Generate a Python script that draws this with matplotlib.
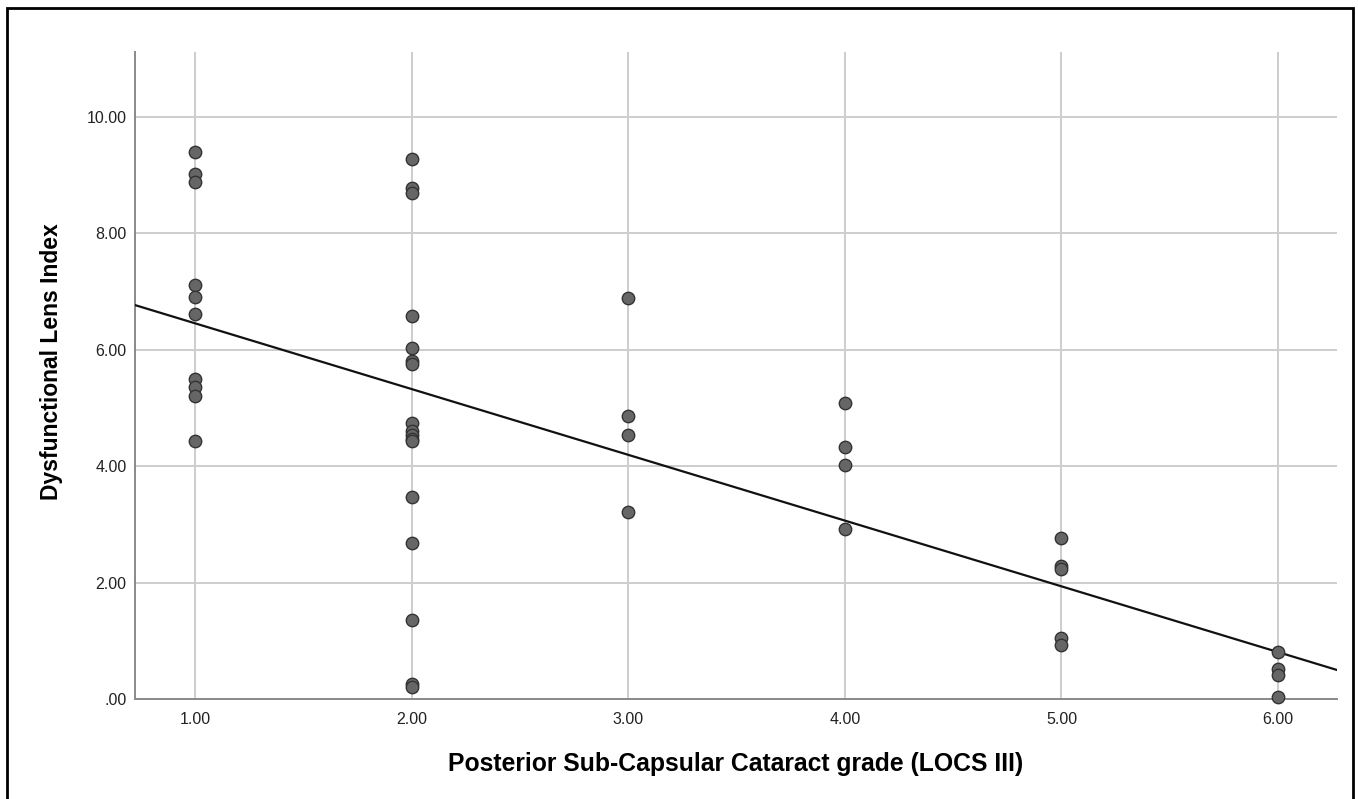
import numpy as np
import matplotlib.pyplot as plt
from matplotlib.patches import Rectangle

plt.rcParams['font.family'] = ['Liberation Sans', 'DejaVu Sans']

# PSC grade and DLI values, grouped by grade
grade_1 = [9.40, 9.02, 8.87, 7.11, 6.91, 6.61, 5.50, 5.36, 5.21, 4.43]
grade_2 = [9.28, 8.77, 8.69, 6.57, 6.02, 5.80, 5.76, 4.74, 4.60, 4.53,
           4.47, 4.43, 3.47, 2.68, 1.36, 0.25, 0.20]
grade_3 = [6.88, 4.86, 4.53, 3.21]
grade_4 = [5.08, 4.33, 4.01, 2.92]
grade_5 = [2.77, 2.29, 2.23, 1.05, 0.93]
grade_6 = [0.81, 0.52, 0.42, 0.03]

groups = [grade_1, grade_2, grade_3, grade_4, grade_5, grade_6]
grades = [1, 2, 3, 4, 5, 6]

x_ticks = [1, 2, 3, 4, 5, 6]
x_tick_labels = ['1.00', '2.00', '3.00', '4.00', '5.00', '6.00']
y_ticks = [0, 2, 4, 6, 8, 10]
y_tick_labels = ['.00', '2.00', '4.00', '6.00', '8.00', '10.00']

x = np.concatenate([[g] * len(vals) for g, vals in zip(grades, groups)])
y = np.concatenate(groups)

fig = plt.figure(figsize=(13.58, 7.99), dpi=100)
ax = fig.add_axes([135 / 1358, 1 - 699 / 799, 1202 / 1358, 647 / 799])

xmin, xmax = 0.723, 6.272
ax.set_xlim(xmin, xmax)
ax.set_ylim(0, 11.11)

ax.set_xticks(x_ticks)
ax.set_xticklabels(x_tick_labels)
ax.set_yticks(y_ticks)
ax.set_yticklabels(y_tick_labels)
ax.tick_params(length=0, labelsize=11.5, colors='#222222', pad=6)
ax.tick_params(axis='x', pad=9)

ax.grid(True, color='#cdcdcd', linewidth=1.4)
ax.set_axisbelow(True)
for side in ['top', 'right']:
    ax.spines[side].set_visible(False)
for side in ['left', 'bottom']:
    ax.spines[side].set_color('#8a8a8a')
    ax.spines[side].set_linewidth(1.4)

# linear fit line across the whole x range
slope, intercept = np.polyfit(x, y, 1)
xs = np.array([xmin, xmax])
ax.plot(xs, slope * xs + intercept, color='#111111', linewidth=1.6, zorder=3)

ax.scatter(x, y, s=80, color='#666666', edgecolor='#333333', linewidth=1.0,
           zorder=4, clip_on=False)

ax.set_xlabel('Posterior Sub-Capsular Cataract grade (LOCS III)',
              fontsize=17.8, fontweight='bold')
ax.set_ylabel('Dysfunctional Lens Index', fontsize=16.5, fontweight='bold')
ax.xaxis.set_label_coords(0.5, -0.082)
ax.yaxis.set_label_coords(-0.060, 0.522)

# outer frame
fig.patches.append(Rectangle((7 / 1358, -0.02), 1346 / 1358, 1.02 - 8 / 799,
                             transform=fig.transFigure, fill=False,
                             edgecolor='black', linewidth=2))

fig.savefig('out.png', dpi=100)
